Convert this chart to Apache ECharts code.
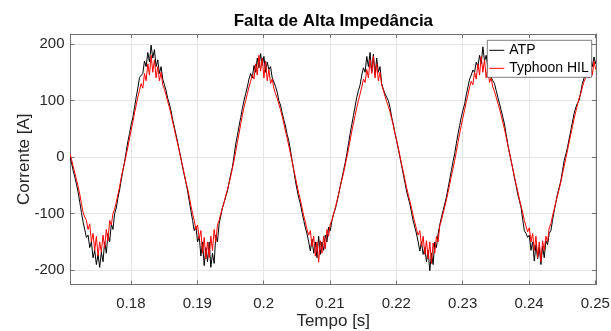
<!DOCTYPE html>
<html>
<head>
<meta charset="utf-8">
<script src="https://cdn.jsdelivr.net/npm/echarts@6/dist/echarts.min.js"></script>
<style>
html,body{margin:0;padding:0;background:#fff;}
#chart{width:611px;height:331px;}
</style>
</head>
<body>
<div id="chart"></div>
<script>
// sampling of the waveforms (s)
const tStart = 0.1708;
const tStep = 0.00025;

// ATP current [A], one value per sample
const atp = [
  3,-10,-24,-35,-48,-62,-80,-98,-115,-128,
  -142,-138,-160,-150,-178,-165,-190,-172,-195,-168,
  -185,-150,-170,-135,-150,-118,-128,-100,-90,-72,
  -58,-40,-24,-8,10,28,42,58,70,88,
  106,122,141,140,148,170,160,185,168,198,
  175,190,160,172,148,160,138,128,118,104,
  94,82,66,53,40,26,12,-2,-18,-32,
  -45,-60,-78,-95,-112,-130,-122,-150,-140,-175,
  -150,-192,-160,-185,-150,-195,-170,-188,-138,-150,
  -118,-104,-89,-80,-70,-60,-45,-30,-18,2,
  23,38,55,70,86,100,112,124,138,148,
  140,162,150,175,158,183,162,178,150,168,
  155,160,140,141,125,115,100,92,78,66,
  55,40,29,12,-6,-24,-42,-58,-72,-83,
  -98,-112,-125,-136,-150,-166,-145,-170,-150,-178,
  -140,-172,-150,-165,-138,-150,-124,-130,-112,-101,
  -92,-80,-66,-52,-38,-24,-10,6,24,42,
  58,74,90,106,118,128,145,158,150,178,
  160,185,150,182,145,175,150,160,130,120,
  112,106,100,88,71,58,42,29,15,0,
  -15,-30,-45,-60,-72,-83,-98,-113,-124,-136,
  -150,-166,-150,-172,-160,-185,-165,-201,-170,-190,
  -150,-160,-136,-120,-107,-95,-83,-71,-55,-40,
  -24,-8,6,24,41,56,71,83,94,110,
  124,138,145,154,150,168,160,180,165,195,
  170,180,159,150,141,135,130,118,106,95,
  83,71,59,40,23,8,-6,-20,-36,-50,
  -65,-77,-89,-110,-130,-135,-142,-138,-165,-150,
  -184,-155,-180,-160,-190,-158,-178,-148,-155,-135,
  -130,-112,-95,-80,-65,-54,-42,-24,-6,5,
  17,32,47,62,77,88,95,100,115,130,
  140,148,154,165,171,160,177,165
];

// Typhoon HIL current [A], one value per sample
const typhoon = [
  6,-4,-16,-28,-40,-52,-66,-82,-98,-106,
  -112,-128,-118,-150,-135,-165,-140,-175,-150,-168,
  -138,-160,-128,-148,-112,-120,-100,-92,-80,-66,
  -52,-36,-22,-10,4,18,34,48,62,78,
  92,106,118,130,122,148,135,165,145,180,
  150,172,140,160,135,150,128,120,110,98,
  88,76,62,50,36,24,10,-4,-16,-30,
  -44,-56,-70,-86,-100,-112,-128,-120,-145,-130,
  -170,-142,-180,-150,-178,-140,-165,-128,-150,-120,
  -112,-100,-90,-80,-68,-58,-46,-34,-20,-6,
  10,26,42,58,74,88,100,112,124,134,
  146,138,165,145,180,152,175,140,170,135,
  155,130,138,122,112,104,94,84,72,60,
  46,34,20,6,-8,-22,-36,-50,-64,-76,
  -90,-104,-115,-128,-138,-130,-158,-140,-175,-150,
  -186,-148,-170,-140,-162,-128,-140,-118,-112,-100,
  -90,-78,-66,-52,-40,-28,-14,0,14,30,
  46,60,74,88,100,112,124,138,132,155,
  140,172,148,178,140,165,135,150,128,118,
  108,98,90,80,68,56,42,30,16,2,
  -12,-26,-40,-54,-66,-78,-90,-104,-116,-128,
  -138,-130,-158,-140,-172,-148,-180,-150,-188,-152,
  -170,-140,-150,-122,-112,-100,-88,-76,-62,-48,
  -34,-20,-6,10,26,42,56,70,84,98,
  110,124,134,128,150,138,165,145,178,150,
  172,140,160,132,140,124,116,106,96,86,
  74,62,50,36,22,8,-6,-20,-34,-48,
  -60,-74,-86,-98,-112,-122,-132,-125,-150,-135,
  -165,-140,-178,-150,-185,-148,-165,-140,-150,-125,
  -118,-104,-92,-80,-68,-56,-44,-30,-16,-2,
  12,26,40,54,68,80,92,104,112,124,
  134,140,150,140,162,145,170,155
];

const xTicks = [0.18, 0.19, 0.2, 0.21, 0.22, 0.23, 0.24, 0.25];
const yTicks = [-200, -100, 0, 100, 200];

const toPairs = arr => arr.map((v, i) => [+(tStart + i * tStep).toFixed(5), v]);

const FONT = '"Liberation Sans", Arial, Helvetica, sans-serif';
const AX = '#262626';
const BORDER = '#707070';

const xMin = 0.1709, xMax = 0.2501;
const yMin = -225.3, yMax = 217.7;

const chart = echarts.init(document.getElementById('chart'), null, {renderer: 'canvas'});
chart.setOption({
  animation: false,
  backgroundColor: '#fff',
  title: {
    text: 'Falta de Alta Impedância',
    left: 333.4,
    textAlign: 'center',
    top: 13,
    padding: 0,
    textStyle: {fontFamily: FONT, fontSize: 17, fontWeight: 'bold', color: '#000'}
  },
  legend: {
    orient: 'vertical',
    left: 487.3,
    top: 40.3,
    padding: [3, 3, 2, 2],
    itemGap: 4,
    itemWidth: 15,
    itemHeight: 1,
    icon: 'rect',
    backgroundColor: '#fff',
    borderColor: '#262626',
    borderWidth: 0.6,
    borderRadius: 0,
    textStyle: {fontFamily: FONT, fontSize: 14, color: '#000', lineHeight: 14},
    data: ['ATP', 'Typhoon HIL']
  },
  grid: {left: 70.5, right: 15, top: 34, bottom: 46.5, containLabel: false, outerBoundsMode: 'none'},
  xAxis: [{
    type: 'value', min: xMin, max: xMax,
    name: 'Tempo [s]', nameLocation: 'middle', nameGap: 28, nameMoveOverlap: false,
    nameTextStyle: {fontFamily: FONT, fontSize: 17, color: AX},
    axisLine: {show: true, onZero: false, lineStyle: {color: BORDER, width: 1}},
    axisTick: {show: true, inside: true, length: 4, customValues: xTicks, lineStyle: {color: BORDER}},
    axisLabel: {show: true, margin: 12, customValues: xTicks, fontFamily: FONT, fontSize: 15, color: AX,
      formatter: v => String(Number(v.toFixed(2)))},
    splitLine: {show: true, lineStyle: {color: '#e6e6e6', width: 1}}
  }, {
    type: 'value', min: xMin, max: xMax, position: 'top',
    axisLine: {show: true, onZero: false, lineStyle: {color: BORDER, width: 1}},
    axisTick: {show: true, inside: true, length: 4, customValues: xTicks, lineStyle: {color: BORDER}},
    axisLabel: {show: false},
    splitLine: {show: false}
  }],
  yAxis: [{
    type: 'value', min: yMin, max: yMax,
    name: 'Corrente [A]', nameLocation: 'middle', nameGap: 38, nameMoveOverlap: false,
    nameTextStyle: {fontFamily: FONT, fontSize: 17, color: AX},
    axisLine: {show: true, onZero: false, lineStyle: {color: BORDER, width: 1}},
    axisTick: {show: true, inside: true, length: 4, customValues: yTicks, lineStyle: {color: BORDER}},
    axisLabel: {show: true, margin: 6, customValues: yTicks, fontFamily: FONT, fontSize: 15, color: AX},
    splitLine: {show: true, lineStyle: {color: '#e6e6e6', width: 1}}
  }, {
    type: 'value', min: yMin, max: yMax, position: 'right',
    axisLine: {show: true, onZero: false, lineStyle: {color: BORDER, width: 1}},
    axisTick: {show: true, inside: true, length: 4, customValues: yTicks, lineStyle: {color: BORDER}},
    axisLabel: {show: false},
    splitLine: {show: false}
  }],
  series: [{
    name: 'ATP', type: 'line', xAxisIndex: 0, yAxisIndex: 0,
    data: toPairs(atp), showSymbol: false, symbol: 'none',
    lineStyle: {color: '#000000', width: 1}, itemStyle: {color: '#000000'}
  }, {
    name: 'Typhoon HIL', type: 'line', xAxisIndex: 0, yAxisIndex: 0,
    data: toPairs(typhoon), showSymbol: false, symbol: 'none',
    lineStyle: {color: '#ff0000', width: 1}, itemStyle: {color: '#ff0000'}
  }]
});
</script>
</body>
</html>
